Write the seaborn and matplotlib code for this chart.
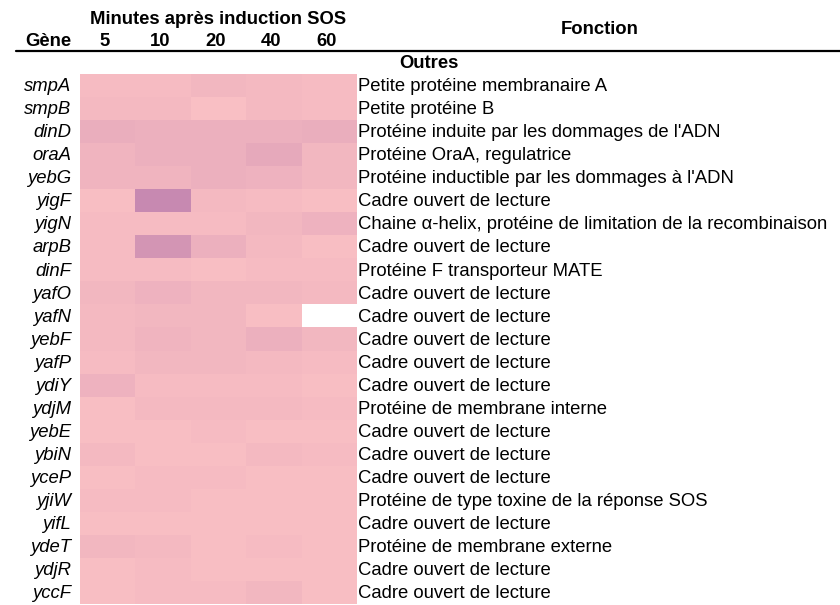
import numpy as np
import pandas as pd
import matplotlib
matplotlib.use("Agg")
import matplotlib.pyplot as plt
import seaborn as sns
from matplotlib.colors import LinearSegmentedColormap
from matplotlib.lines import Line2D

genes = ["smpA", "smpB", "dinD", "oraA", "yebG", "yigF", "yigN", "arpB", "dinF",
         "yafO", "yafN", "yebF", "yafP", "ydiY", "ydjM", "yebE", "ybiN", "yceP",
         "yjiW", "yifL", "ydeT", "ydjR", "yccF"]
minutes = ["5", "10", "20", "40", "60"]
functions = [
    "Petite protéine membranaire A",
    "Petite protéine B",
    "Protéine induite par les dommages de l'ADN",
    "Protéine OraA, regulatrice",
    "Protéine inductible par les dommages à l'ADN",
    "Cadre ouvert de lecture",
    "Chaine α-helix, protéine de limitation de la recombinaison",
    "Cadre ouvert de lecture",
    "Protéine F transporteur MATE",
    "Cadre ouvert de lecture",
    "Cadre ouvert de lecture",
    "Cadre ouvert de lecture",
    "Cadre ouvert de lecture",
    "Cadre ouvert de lecture",
    "Protéine de membrane interne",
    "Cadre ouvert de lecture",
    "Cadre ouvert de lecture",
    "Cadre ouvert de lecture",
    "Protéine de type toxine de la réponse SOS",
    "Cadre ouvert de lecture",
    "Protéine de membrane externe",
    "Cadre ouvert de lecture",
    "Cadre ouvert de lecture",
]
col_5 = [1.0, 1.5, 4.0, 2.5, 2.5, 0.5, 1.0, 1.0, 1.0, 2.0, 1.5, 1.5, 1.0, 3.0, 0.5, 0.5, 1.5, 0.5, 1.0, 0.5, 2.0, 0.5, 0.5]
col_10 = [1.0, 1.5, 3.5, 3.5, 2.5, 9.0, 1.0, 7.5, 1.0, 3.0, 2.0, 2.5, 2.0, 1.0, 1.5, 0.5, 0.5, 1.0, 1.0, 0.5, 1.5, 1.0, 1.0]
col_20 = [2.0, 0.3, 3.5, 3.5, 3.5, 1.5, 1.0, 3.5, 0.5, 2.0, 2.0, 2.0, 2.0, 1.0, 1.5, 1.0, 0.5, 1.0, 0.5, 0.5, 0.5, 0.5, 1.0]
col_40 = [1.5, 1.5, 3.5, 5.0, 3.0, 1.0, 2.0, 1.5, 1.0, 2.0, 0.5, 3.5, 1.5, 1.0, 1.5, 0.5, 1.5, 0.5, 0.5, 0.5, 1.0, 0.5, 2.0]
col_60 = [1.0, 1.0, 4.0, 2.0, 2.0, 0.5, 3.0, 0.5, 1.0, 1.5, np.nan, 2.0, 1.0, 0.5, 1.0, 0.5, 1.0, 0.5, 0.5, 0.5, 0.5, 0.5, 0.5]

df = pd.DataFrame({"5": col_5, "10": col_10, "20": col_20, "40": col_40, "60": col_60}, index=genes)

sns.set_style("white")
plt.rcParams["font.family"] = ["Liberation Sans", "DejaVu Sans"]
plt.rcParams["text.color"] = "black"

W, H = 840, 605
fig = plt.figure(figsize=(W / 100, H / 100), dpi=100)
left, right, top, bottom = 80, 357, 74, 604
ax = fig.add_axes([left / W, 1 - bottom / H, (right - left) / W, (bottom - top) / H])

cmap = LinearSegmentedColormap.from_list("pinks", ["#FAC0C4", "#E6A9BB", "#C081AE"])
sns.heatmap(df, ax=ax, cmap=cmap, vmin=0, vmax=10, cbar=False,
            xticklabels=False, yticklabels=False, linewidths=0)
ax.set_xlabel("")
ax.set_ylabel("")
ax.tick_params(left=False, bottom=False)
for s in ax.spines.values():
    s.set_visible(False)

fs = 13.3
for i, g in enumerate(genes):
    ax.text(-0.16, i + 0.55, g, ha="right", va="center", fontsize=fs, style="italic",
            color="black", clip_on=False)
for i, f in enumerate(functions):
    ax.text(5.02, i + 0.55, f, ha="left", va="center", fontsize=fs, color="black", clip_on=False)
for j, m in enumerate(minutes):
    ax.text(j + 0.45, -1.4, m, ha="center", va="center", fontsize=fs, fontweight="bold",
            color="black", clip_on=False)

def fx(px):
    return px / W

def fy(py):
    return 1 - py / H

fig.text(fx(218), fy(20), "Minutes après induction SOS", ha="center", va="center", fontsize=fs, fontweight="bold", color="black")
fig.text(fx(48), fy(42), "Gène", ha="center", va="center", fontsize=fs, fontweight="bold", color="black")
fig.text(fx(600), fy(30), "Fonction", ha="center", va="center", fontsize=fs, fontweight="bold", color="black")
fig.text(fx(429), fy(64), "Outres", ha="center", va="center", fontsize=fs, fontweight="bold", color="black")
fig.add_artist(Line2D([fx(16), fx(840)], [fy(51), fy(51)], color="black", linewidth=1.6))

fig.savefig("out.png", dpi=100, facecolor="white")
